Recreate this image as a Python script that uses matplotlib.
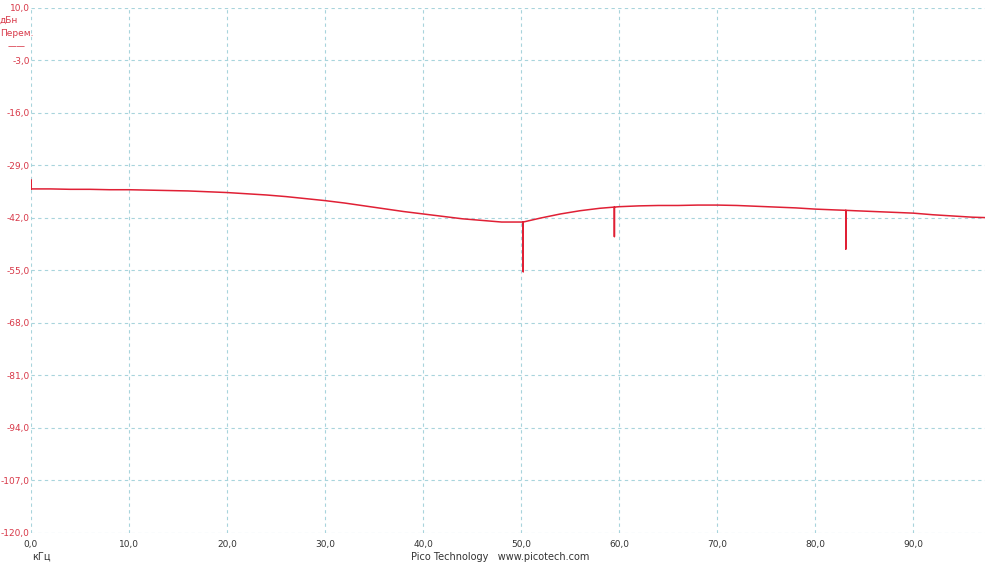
import matplotlib.pyplot as plt

# Spectrum (kHz, dB)
freq = [0.0, 0.0, 0.0, 2, 4, 6, 8, 10, 12, 14, 16, 18, 20, 22, 24, 26, 28, 30,
        32, 34, 36, 38, 40, 42, 44, 46, 48, 50, 50.2, 50.2, 50.2, 52, 54, 56,
        58, 59.5, 59.5, 59.5, 60, 62, 64, 66, 68, 70, 72, 74, 76, 78, 80, 82,
        83.1, 83.1, 83.1, 84, 86, 88, 90, 92, 94, 96, 97.3]
level = [-34.8, -32.6, -34.8, -34.8, -34.9, -34.9, -35.0, -35.0, -35.1, -35.2,
         -35.3, -35.5, -35.7, -36.0, -36.3, -36.7, -37.2, -37.7, -38.3, -39.0,
         -39.7, -40.4, -41.0, -41.6, -42.2, -42.6, -43.0, -43.0, -43.0, -55.3,
         -43.0, -42.0, -41.0, -40.2, -39.6, -39.3, -46.6, -39.3, -39.2, -39.0,
         -38.9, -38.9, -38.8, -38.8, -38.9, -39.1, -39.3, -39.5, -39.8, -40.0,
         -40.1, -49.7, -40.1, -40.2, -40.4, -40.6, -40.8, -41.2, -41.5, -41.8,
         -41.9]

yticks = [10, -3, -16, -29, -42, -55, -68, -81, -94, -107, -120]
xticks = [0, 10, 20, 30, 40, 50, 60, 70, 80, 90]

red = '#d83848'
line_red = '#e02035'
grid_col = '#a8d4dc'

fig = plt.figure(figsize=(10, 5.63), dpi=100)
ax = fig.add_axes([0.031, 0.0533, 0.954, 0.9325])

ax.plot(freq, level, color=line_red, lw=1.1)

ax.set_xlim(0, 97.3)
ax.set_ylim(-120, 10)
ax.set_xticks(xticks)
ax.set_yticks(yticks)
ax.set_xticklabels([('%.1f' % v).replace('.', ',') for v in xticks])
ax.set_yticklabels([('%.1f' % v).replace('.', ',') for v in yticks])
ax.tick_params(length=0, labelsize=6.5)
ax.tick_params(axis='y', colors=red, pad=1)
ax.tick_params(axis='x', colors='#333333', pad=5)
ax.grid(True, color=grid_col, ls=(0, (3, 3)), lw=0.8)
for s in ax.spines.values():
    s.set_visible(False)

fig.text(0.0, 0.964, 'дБн', color=red, fontsize=6.5, ha='left', va='center')
fig.text(0.0, 0.941, 'Перем.', color=red, fontsize=6.5, ha='left', va='center')
fig.text(0.008, 0.917, '——', color=red, fontsize=6.5, ha='left', va='center')
fig.text(0.032, 0.011, 'кГц', color='#333333', fontsize=7, ha='left', va='center')
fig.text(0.5, 0.011, 'Pico Technology   www.picotech.com', color='#333333',
         fontsize=7, ha='center', va='center')

fig.savefig('out.png', dpi=100)
